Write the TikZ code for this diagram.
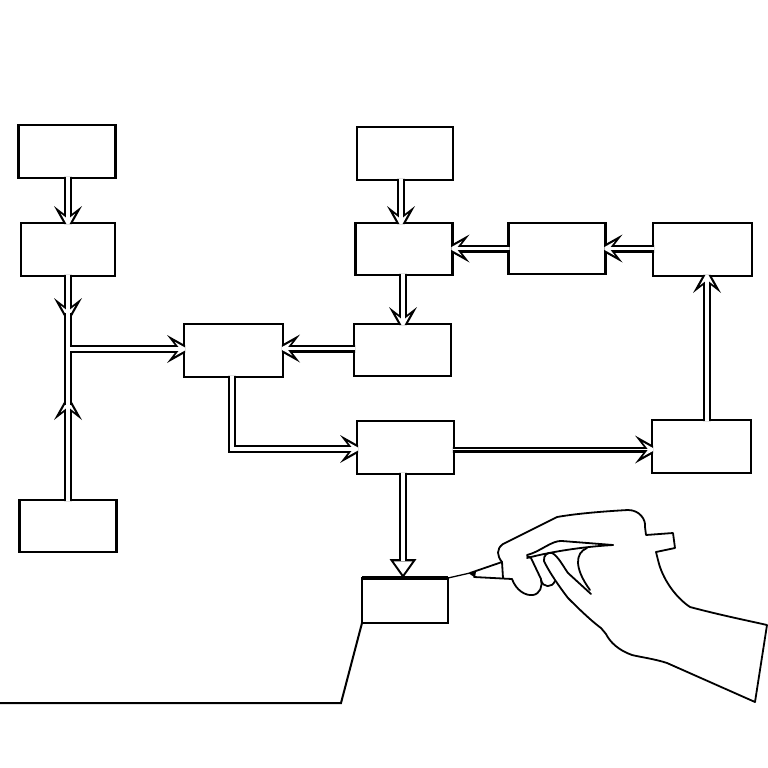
\documentclass[tikz,border=0pt]{standalone}
\usetikzlibrary{arrows.meta}

\begin{document}
\begin{tikzpicture}[x=1pt,y=-1pt]
	\tikzstyle{block} = [rectangle,draw,line width=2.2pt,outer sep=0pt,inner sep=0pt,minimum width=97pt,minimum height=53pt]
	\tikzstyle{link} = [line width=8pt,shorten <=-3pt,shorten >=-8pt,-{Stealth[length=25pt,width=28pt,inset=10.9pt,line width=0pt]},
		postaction={draw=white,line width=3.6pt,shorten <=-3pt,shorten >=-3.6pt,-{Stealth[length=13pt,width=14.4pt,inset=5.6pt,line width=0pt]}}]
	\tikzstyle{thinlink} = [line width=6pt,shorten <=-3pt,shorten >=-8pt,-{Stealth[length=25pt,width=28pt,inset=10.9pt,line width=0pt]},
		postaction={draw=white,line width=1.8pt,shorten <=-3pt,shorten >=-3.6pt,-{Stealth[length=13pt,width=14.4pt,inset=5.6pt,line width=0pt]}}]
	\tikzstyle{pipe} = [line width=8pt,postaction={draw=white,line width=3.6pt}]
	\tikzstyle{drop} = [line width=8.5pt,shorten <=-3pt,-{Triangle[length=19pt,width=27pt,line width=0pt]},
		postaction={draw=white,line width=4pt,shorten <=-3pt,shorten >=3.6pt,-{Triangle[length=13pt,width=18.5pt,line width=0pt]}}]
	\tikzstyle{hand} = [line width=1.8pt,line join=round,line cap=round]
	\useasboundingbox (0,0) rectangle (768,768);
	% boxes
	\node[block](topA)at (67,151.5){};
	\node[block,minimum width=94pt](midA)at (68,249.5){};
	\node[block,minimum height=52pt](lowA)at (68,526){};
	\node[block,minimum width=99pt](hub)at (233.5,350.5){};
	\node[block,minimum width=96pt](topC)at (405,153.5){};
	\node[block,minimum height=52pt](midC)at (404,249){};
	\node[block,minimum height=52pt](lowC)at (402.5,350){};
	\node[block,minimum height=51pt](relay)at (557,248.5){};
	\node[block,minimum width=99pt](corner)at (702.5,249.5){};
	\node[block](stepF)at (405.5,447.5){};
	\node[block,minimum width=99pt](endG)at (701.5,446.5){};
	\node[block,minimum width=86pt,minimum height=45pt](goal)at (405,600.5){};
	\coordinate (jtop) at (68,315);
	\coordinate (jlow) at (68,403);
	\coordinate (jin) at (68,313);
	\coordinate (jout) at (68,405);
	\coordinate (jside) at (72.8,349);
	% connectors, kept out of the boxes
	\begin{scope}[even odd rule]
	\clip (-10,-10) rectangle (778,778)
		\foreach \b in {topA,midA,lowA,hub,topC,midC,lowC,relay,corner,stepF,endG,goal}
		{([shift={(1.1pt,1.1pt)}]\b.south west) rectangle ([shift={(-1.1pt,-1.1pt)}]\b.north east)};
	\draw[link] (topA.south -| midA.north) -- (midA.north);
	\draw[link] (midA.south) -- (jtop);
	\draw[link] (lowA.north) -- (jlow);
	\draw[pipe] (jin) -- (jout);
	\draw[link] (jside) -- (jside -| hub.west);
	\draw[link] (lowC.west |- 0,348.5) -- (hub.east |- 0,348.5);
	\draw[link] (hub.south -| 232,0) |- (stepF.west |- 0,449);
	\draw[thinlink] (stepF.east |- 0,449.5) -- (endG.west |- 0,449.5);
	\draw[link] (endG.north -| 707,0) -- (corner.south -| 707,0);
	\draw[link] (corner.west |- 0,248.5) -- (relay.east |- 0,248.5);
	\draw[link] (relay.west |- 0,248.5) -- (midC.east |- 0,248.5);
	\draw[link] (topC.south -| 401,0) -- (midC.north -| 401,0);
	\draw[link] (midC.south -| 403,0) -- (lowC.north -| 403,0);
	\draw[drop] (stepF.south -| 403,0) -- (goal.north -| 403,0);
	\end{scope}
	% the line being drawn
	\coordinate (pentip) at (470,573);
	\coordinate (floor) at (341,703);
	\coordinate (edge) at (0,703);
	\draw[line width=3.2pt] (goal.north west) -- (goal.north east);
	\draw[line width=1.3pt] (goal.north east) -- (pentip);
	\draw[line width=2pt] (goal.south west) -- (floor) -- (edge);
	% pen and hand
	\fill (469,573.5) -- (476,571.5) -- (475,577.5) -- cycle;
	\draw[hand] (pentip) -- (502,562) -- (503,578) (474,577) -- (512,579);
	\draw[hand] (502,562) .. controls (497,556) and (496,549) .. (503,544) -- (557,517)
		.. controls (580,513) and (610,511) .. (628,510) .. controls (640,510) and (646,520) .. (645,527)
		-- (646,535) -- (673,533) -- (675,548) -- (656,552) -- (658,560)
		.. controls (662,578) and (675,597) .. (690,607) .. controls (720,615) and (745,620) .. (767,625)
		-- (755,702) -- (667,663) .. controls (655,659) and (640,657) .. (632,655)
		.. controls (618,650) and (610,642) .. (606,634) -- (601,628)
		.. controls (590,620) and (575,605) .. (568,598) .. controls (558,585) and (548,570) .. (544,561)
		.. controls (543,555) and (548,552) .. (552,553) .. controls (558,556) and (563,566) .. (568,573) -- (591,594);
	\draw[hand] (512,579) .. controls (516,590) and (525,596) .. (533,595)
		.. controls (540,594) and (543,586) .. (541,579) -- (531,558) -- (527,556);
	\draw[hand] (527,555) .. controls (540,552) and (552,540) .. (562,541) -- (613,545);
	\draw[hand] (527,558) .. controls (550,552) and (580,547) .. (613,545);
	\draw[hand] (587,548) .. controls (575,553) and (574,568) .. (590,590);
	\draw[hand] (541,580) .. controls (543,588) and (552,588) .. (555,581);
\end{tikzpicture}
\end{document}
